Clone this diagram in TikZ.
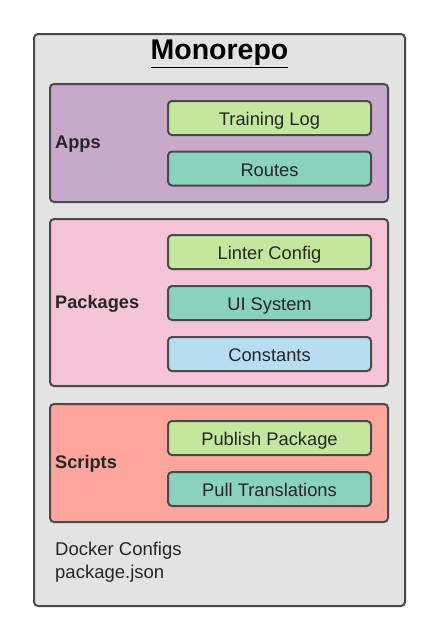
\documentclass[tikz,border=0pt]{standalone}
\usepackage{fontspec}
\setmainfont{Liberation Sans}
\definecolor{bggray}{HTML}{E3E3E3}
\definecolor{edgegray}{HTML}{4A4A4A}
\definecolor{appsfill}{HTML}{C9A9CB}
\definecolor{pkgfill}{HTML}{F5C4D6}
\definecolor{scrfill}{HTML}{FEA69D}
\definecolor{greenfill}{HTML}{C4E79E}
\definecolor{tealfill}{HTML}{88D2BE}
\definecolor{bluefill}{HTML}{B8DDF3}
\begin{document}
\begin{tikzpicture}[x=1pt,y=-1pt,
  framebox/.style={draw=edgegray,line width=2pt,rounded corners=4pt},
  item/.style={framebox,minimum width=203pt,minimum height=34pt,inner sep=0pt,text height=15pt,text depth=0pt,font=\fontsize{18.3}{21}\selectfont,text=black!85},
  grouplabel/.style={anchor=base west,inner sep=0pt,font=\bfseries\fontsize{18.2}{21}\selectfont,text=black!85},
  plain/.style={anchor=base west,inner sep=0pt,font=\fontsize{18.5}{21}\selectfont,text=black!85}]
\useasboundingbox (0,0) rectangle (438,640);
% outer
\draw[framebox,fill=bggray] (34,34) rectangle (405,606);
\node[anchor=base,inner sep=0pt] (title) at (219.5,59.5) {\bfseries\fontsize{28.5}{30}\selectfont\underline{Monorepo}};
% Apps
\draw[framebox,fill=appsfill] (50,84) rectangle (388,202);
\node[grouplabel] (apps) at (55,148.5) {Apps};
\node[item,fill=greenfill] (tlog) at (269.5,118) {Training Log};
\node[item,fill=tealfill] (routes) at (269.5,168.5) {Routes};
% Packages
\draw[framebox,fill=pkgfill] (50,219) rectangle (388,386);
\node[grouplabel] (pkgs) at (55,308) {Packages};
\node[item,fill=greenfill] (linter) at (269.5,252) {Linter Config};
\node[item,fill=tealfill] (ui) at (269.5,303) {UI System};
\node[item,fill=bluefill] (const) at (269.5,354) {Constants};
% Scripts
\draw[framebox,fill=scrfill] (50,404) rectangle (388,522);
\node[grouplabel] (scripts) at (55,468) {Scripts};
\node[item,fill=greenfill] (publish) at (269.5,438) {Publish Package};
\node[item,fill=tealfill] (pull) at (269.5,489) {Pull Translations};
% footer
\node[plain] (docker) at (55,555.5) {Docker Configs};
\node[plain] (pkgjson) at (55,578.5) {package.json};
\end{tikzpicture}
\end{document}
